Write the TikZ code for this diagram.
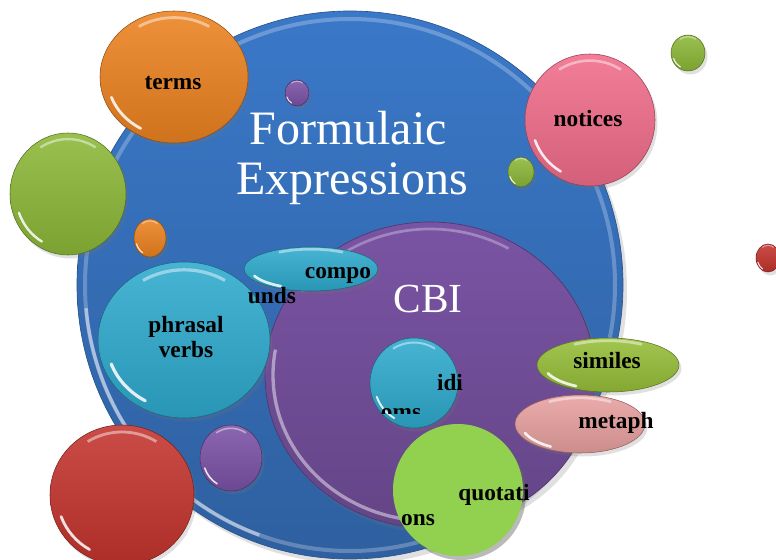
\documentclass[tikz,border=0pt]{standalone}
\usepackage{fontspec}
\setmainfont{Liberation Serif}
\usepackage{tikz}
\usetikzlibrary{calc}
\definecolor{fblue}{RGB}{58,120,200}
\definecolor{cbipurple}{RGB}{122,84,164}
\definecolor{termorange}{RGB}{236,130,32}
\definecolor{leafgreen}{RGB}{140,184,56}
\definecolor{noticepink}{RGB}{240,108,138}
\definecolor{bubblecyan}{RGB}{46,170,206}
\definecolor{similegreen}{RGB}{150,190,56}
\definecolor{metaphpink}{RGB}{232,160,160}
\definecolor{quotegreen}{RGB}{146,208,80}
\definecolor{berryred}{RGB}{196,52,46}
\definecolor{grapepurple}{RGB}{124,82,166}

\tikzset{
  lbl/.style={font=\fontsize{17.5}{20}\bfseries\selectfont, text=black, inner sep=0pt, anchor=base},
  headline/.style={font=\fontsize{36}{40}\selectfont, text=white, inner sep=0pt, anchor=base},
  softshadow/.style={fill=black!55, opacity=.22}
}

% glossy bubble: centre, x radius, y radius, colour
\newcommand{\bubble}[4]{%
  \pgfmathsetmacro\hx{0.9*#2}\pgfmathsetmacro\hy{0.9*#3}%
  \pgfmathsetmacro\hw{0.5+0.022*#2}%
  \fill[softshadow] ($(#1)+(2.5,3.5)$) ellipse [x radius=#2, y radius=#3];
  \shade[top color=#4!88!white, middle color=#4, bottom color=#4!88!black]
    (#1) ellipse [x radius=#2, y radius=#3];
  \draw[#4!60!black, line width=.4pt] (#1) ellipse [x radius=#2, y radius=#3];
  \draw[white, opacity=.45, line width=\hw pt]
    ($(#1)+(238:{\hx} and {\hy})$) arc [start angle=238, end angle=302, x radius=\hx, y radius=\hy];
  \draw[white, opacity=.85, line width=\hw pt, line cap=round]
    ($(#1)+(120:{\hx} and {\hy})$) arc [start angle=120, end angle=160, x radius=\hx, y radius=\hy];
}

\begin{document}
\begin{tikzpicture}[x=0.75pt, y=-0.75pt]
\useasboundingbox (0,0) rectangle (776,560);
\clip (0,0) rectangle (776,560);
\fill[white] (0,0) rectangle (776,560);
% ---- loose pearls
\bubble{688,53}{17}{18}{leafgreen}
\bubble{768,258}{12}{14}{berryred}
% ---- big circle
\fill[softshadow] (354,290) ellipse [x radius=273, y radius=274];
\shade[top color=fblue, bottom color=fblue!80!black] (350,285) ellipse [x radius=273, y radius=274];
\draw[fblue!70!black, line width=.5pt] (350,285) ellipse [x radius=273, y radius=274];
\draw[white, opacity=.25, line width=3pt] (350,285) ellipse [x radius=265, y radius=266];
\draw[white, opacity=.45, line width=2.5pt] ($(350,285)+(110:265 and 266)$)
  arc [start angle=110, end angle=175, x radius=265, y radius=266];
% ---- bubbles round the rim
\bubble{174,77}{74}{66}{termorange}
\bubble{68,194}{58}{61}{leafgreen}
\bubble{150,238}{16}{19}{termorange}
\bubble{297,93}{12}{13}{grapepurple}
\bubble{590,120}{65}{66}{noticepink}
\bubble{521,172}{13}{15}{leafgreen}
% ---- CBI circle
\fill[softshadow] (434,380) ellipse [x radius=165, y radius=153];
\shade[top color=cbipurple, bottom color=cbipurple!82!black] (430,375) ellipse [x radius=165, y radius=153];
\draw[cbipurple!65!black, line width=.5pt] (430,375) ellipse [x radius=165, y radius=153];
\draw[white, opacity=.45, line width=2.5pt] ($(430,375)+(95:157 and 146)$)
  arc [start angle=95, end angle=190, x radius=157, y radius=146];
\draw[white, opacity=.3, line width=2pt] ($(430,375)+(215:157 and 146)$)
  arc [start angle=215, end angle=300, x radius=157, y radius=146];
% ---- inner bubbles
\bubble{184,340}{86}{78}{bubblecyan}
\bubble{311,269}{67}{22}{bubblecyan}
\bubble{414,383}{44}{45}{bubblecyan}
\bubble{122,495}{72}{70}{berryred}
\bubble{231,458}{31}{33}{grapepurple}
\bubble{608,365}{71}{27}{similegreen}
\bubble{580,424}{65}{29}{metaphpink}
% ---- quotations, flat
\fill[black!60, opacity=.45] (461,494) ellipse [x radius=65, y radius=66];
\fill[quotegreen] (458,490) ellipse [x radius=65, y radius=66];
% ---- texts
\node[headline] (formulaic) at (348,145) {Formulaic};
\node[headline] (expressions) at (352,195) {Expressions};
\node[headline, font=\fontsize{31}{34}\selectfont] (cbi) at (428,312) {CBI};
\node[lbl] (terms) at (173,90) {terms};
\node[lbl] (notices) at (588,127) {notices};
\node[lbl] (compo) at (338,278) {compo};
\node[lbl] (unds) at (272,303) {unds};
\node[lbl] (phrasal) at (186,332) {phrasal};
\node[lbl] (verbs) at (186,357) {verbs};
\node[lbl] (idi) at (450,390) {idi};
\begin{scope}
  \clip (360,395) rectangle (440,413);
  \node[lbl] (oms) at (401,419) {oms};
\end{scope}
\node[lbl] (similes) at (607,368) {similes};
\node[lbl] (metaph) at (616,428) {metaph};
\node[lbl] (quotati) at (494,500) {quotati};
\node[lbl] (ons) at (418,525) {ons};
\end{tikzpicture}
\end{document}
